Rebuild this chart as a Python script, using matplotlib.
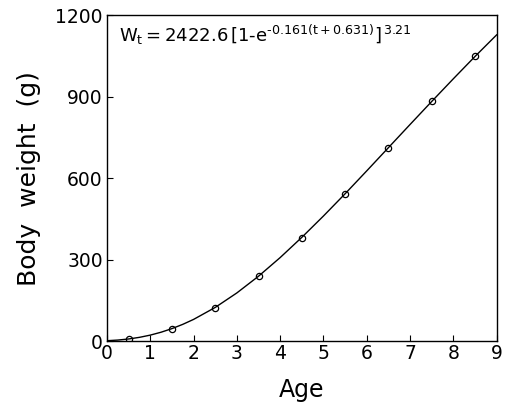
import numpy as np
import matplotlib
matplotlib.use("Agg")
import matplotlib.pyplot as plt

# observed mean weights at age (points)
ages = [0.5, 1.5, 2.5, 3.5, 4.5, 5.5, 6.5, 7.5, 8.5]
weights = [8, 44, 122, 238, 380, 542, 712, 884, 1048]

# fitted growth curve
curve_t = [0, 0.25, 0.5, 0.75, 1.0, 1.25, 1.5, 1.75, 2.0, 2.5, 3.0, 3.5, 4.0,
           4.5, 5.0, 5.5, 6.0, 6.5, 7.0, 7.5, 8.0, 8.5, 9.0]
curve_w = [1.3, 3.7, 7.7, 13.7, 21.9, 32.6, 45.8, 61.5, 79.7, 123.8, 177.2,
           238.7, 307.3, 381.7, 460.3, 542.2, 626.5, 711.8, 797.1, 881.8,
           965.4, 1047.5, 1127]

xticks = [0, 1, 2, 3, 4, 5, 6, 7, 8, 9]
yticks = [0, 300, 600, 900, 1200]

plt.rcParams['font.family'] = ['DejaVu Sans']

fig = plt.figure(figsize=(5.08, 4.07), dpi=100)
ax = fig.add_axes([0.2106, 0.162, 0.767, 0.801])

ax.plot(curve_t, curve_w, color='black', lw=1.0)
ax.plot(ages, weights, 'o', mfc='none', mec='black', ms=4.5, mew=0.9)

ax.set_xlim(0, 9)
ax.set_ylim(0, 1200)
ax.set_xticks(xticks)
ax.set_yticks(yticks)
ax.tick_params(direction='in', length=4, width=0.8, labelsize=13.5, pad=2)
ax.tick_params(axis='y', pad=3)
for s in ax.spines.values():
    s.set_linewidth(1.0)

ax.set_xlabel('Age', fontsize=17, labelpad=11)
ax.set_ylabel('Body  weight  (g)', fontsize=18, labelpad=10)

ax.text(0.03, 0.975,
        r'$\mathregular{W_t = 2422.6\,[1\text{-}e^{\text{-}0.161(t+0.631)}]^{\,3.21}}$',
        transform=ax.transAxes, fontsize=13, va='top', ha='left')

fig.savefig('out.png', dpi=100)
